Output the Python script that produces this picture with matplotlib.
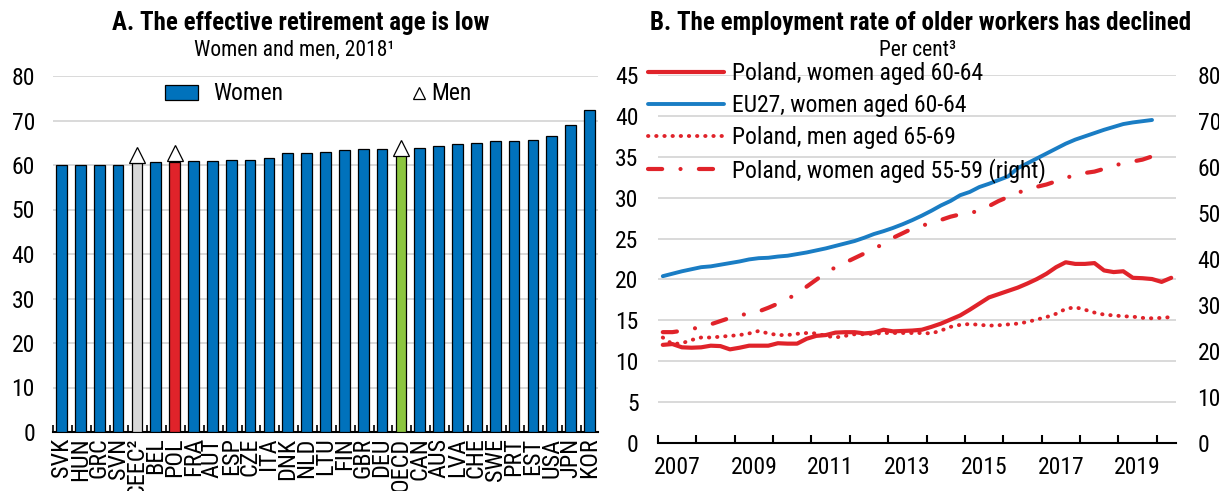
import matplotlib
matplotlib.use('Agg')
import matplotlib.pyplot as plt
import numpy as np
import pandas as pd
from matplotlib import font_manager
from matplotlib.patches import Patch
from matplotlib.lines import Line2D
from matplotlib.legend_handler import HandlerLine2D
from matplotlib.ticker import FixedLocator, NullFormatter


def pick_narrow():
    entries = font_manager.fontManager.ttflist
    prefs = ['Liberation Sans Narrow', 'Arial Narrow', 'Roboto Condensed', 'Open Sans Condensed',
             'Noto Sans Condensed', 'DejaVu Sans Condensed']
    for p in prefs:
        for e in entries:
            if e.name == p:
                return e.name, e.stretch
    for e in entries:
        st = str(e.stretch)
        if 'condensed' in st or 'Narrow' in e.name or 'Condensed' in e.name:
            return e.name, e.stretch
    return None, None


NARROW, STRETCH = pick_narrow()
if NARROW is not None:
    plt.rcParams['font.family'] = [NARROW, 'DejaVu Sans']
    if STRETCH is not None:
        plt.rcParams['font.stretch'] = STRETCH
    SCALE = 1.0
else:
    plt.rcParams['font.family'] = ['Liberation Sans', 'DejaVu Sans']
    SCALE = 0.83

# ---------------- Data: Panel A ----------------
countries = ['SVK', 'HUN', 'GRC', 'SVN', 'CEEC²', 'BEL', 'POL', 'FRA', 'AUT', 'ESP',
             'CZE', 'ITA', 'DNK', 'NLD', 'LTU', 'FIN', 'GBR', 'DEU', 'OECD', 'CAN',
             'AUS', 'LVA', 'CHE', 'SWE', 'PRT', 'EST', 'USA', 'JPN', 'KOR']
women_age = [59.9, 59.9, 59.9, 60.1, 60.4, 60.6, 60.7, 60.8, 60.8, 61.2,
             61.2, 61.5, 62.6, 62.6, 62.9, 63.4, 63.5, 63.5, 62.2, 63.9,
             64.2, 64.7, 65.0, 65.4, 65.4, 65.6, 66.5, 69.1, 72.3]
men_countries = ['CEEC²', 'POL', 'OECD']
men_age = [62.2, 62.8, 63.9]

# ---------------- Data: Panel B (quarterly) ----------------
quarters = pd.period_range('2007Q1', '2020Q2', freq='Q')
pol_women_60_64 = [12.0, 12.1, 11.7, 11.65, 11.7, 11.9, 11.85, 11.45, 11.65, 11.9,
                   11.9, 11.9, 12.2, 12.15, 12.15, 12.75, 13.1, 13.2, 13.5, 13.55,
                   13.55, 13.4, 13.5, 13.85, 13.65, 13.7, 13.75, 13.85, 14.2, 14.6,
                   15.1, 15.6, 16.3, 17.05, 17.8, 18.2, 18.6, 19.0, 19.5, 20.05,
                   20.7, 21.5, 22.1, 21.9, 21.9, 22.0, 21.1, 20.9, 21.0, 20.2,
                   20.15, 20.05, 19.7, 20.2]
eu27_women_60_64 = [20.4, 20.7, 21.0, 21.25, 21.5, 21.6, 21.8, 22.0, 22.2, 22.45,
                    22.6, 22.65, 22.8, 22.9, 23.1, 23.3, 23.55, 23.8, 24.1, 24.4,
                    24.7, 25.1, 25.55, 25.9, 26.3, 26.75, 27.25, 27.8, 28.4, 29.05,
                    29.6, 30.3, 30.7, 31.3, 31.7, 32.15, 32.6, 33.6, 34.2, 34.8,
                    35.4, 36.0, 36.6, 37.1, 37.5, 37.9, 38.3, 38.65, 39.0, 39.2,
                    39.35, 39.5]
pol_men_65_69 = [12.9, 12.1, 12.2, 12.6, 12.9, 12.9, 13.0, 13.1, 13.2, 13.4,
                 13.7, 13.4, 13.2, 13.2, 13.35, 13.45, 13.4, 13.1, 12.9, 13.1,
                 13.3, 13.3, 13.35, 13.45, 13.45, 13.45, 13.45, 13.45, 13.4, 13.75,
                 14.2, 14.45, 14.55, 14.45, 14.35, 14.4, 14.5, 14.6, 14.8, 15.1,
                 15.4, 15.8, 16.4, 16.6, 16.3, 15.95, 15.7, 15.6, 15.5, 15.45,
                 15.3, 15.25, 15.3, 15.4]
pol_women_55_59 = [24.1, 24.1, 24.4, 24.8, 25.2, 25.8, 26.5, 27.2, 27.8, 28.1,
                   28.6, 29.4, 30.3, 31.3, 32.5, 34.0, 35.5, 37.0, 38.2, 39.2,
                   40.2, 41.2, 42.2, 43.3, 44.6, 45.6, 46.6, 47.2, 47.9, 48.5,
                   49.2, 49.7, 50.0, 50.5, 51.5, 52.6, 53.5, 54.4, 55.1, 55.7,
                   56.2, 56.9, 57.6, 58.3, 58.7, 59.0, 59.6, 60.3, 60.8, 61.2,
                   61.6, 62.3]
year_labels = ['2007', '2009', '2011', '2013', '2015', '2017', '2019']

# ---------------- Styling ----------------
BLUE = '#0072bc'
RED = '#e0232a'
GREY = '#d9d9d9'
GREEN = '#8cc63f'
LINE_BLUE = '#1a7dc4'
GRID = '#d9d9d9'
W, H = 1219, 491
FS_TICK = 17 * SCALE
FS_XLAB = 17.5 * SCALE
FS_TITLE = 18 * SCALE
FS_SUB = 15.5 * SCALE

fig = plt.figure(figsize=(W / 100, H / 100), dpi=100)


def fx(px):
    return px / W


def fy(py):
    return 1 - py / H


# ---------------- Panel A ----------------
axA = fig.add_axes([fx(53), fy(432), fx(598) - fx(53), fy(76) - fy(432)])
xpos = np.arange(len(countries))
colors = []
for c in countries:
    if c == 'POL':
        colors.append(RED)
    elif c == 'OECD':
        colors.append(GREEN)
    elif c.startswith('CEEC'):
        colors.append(GREY)
    else:
        colors.append(BLUE)
axA.bar(xpos, women_age, width=0.57, color=colors, edgecolor='black', linewidth=0.9, zorder=3)
mx = [countries.index(c) for c in men_countries]
axA.plot(mx, men_age, linestyle='None', marker='^', markersize=11, markerfacecolor='white',
         markeredgecolor='black', markeredgewidth=0.9, zorder=4)
axA.set_ylim(0, 80)
axA.set_xlim(-0.45, len(countries) - 0.55)
axA.set_yticks(np.arange(0, 81, 10))
axA.yaxis.grid(True, color=GRID, linewidth=1.4, zorder=0)
axA.set_axisbelow(True)
for s in ['top', 'right', 'left']:
    axA.spines[s].set_visible(False)
axA.spines['bottom'].set_linewidth(1.5)
axA.tick_params(axis='y', length=0, labelsize=FS_TICK, pad=13)
axA.set_xticks(xpos)
axA.set_xticklabels(countries, rotation=90, fontsize=FS_XLAB)
axA.tick_params(axis='x', which='major', length=0, pad=4)
axA.xaxis.set_minor_locator(FixedLocator(np.arange(-0.45, len(countries), 1.0)))
axA.tick_params(axis='x', which='minor', direction='in', length=5, width=1.2)


class RightMarkerHandler(HandlerLine2D):
    """Draw the single legend marker at the right end of the handle box."""
    def get_xdata(self, legend, xdescent, ydescent, width, height, fontsize):
        c = -xdescent + width + 2
        xdata = np.array([c - 1, c + 1])
        return xdata, np.array([c])


women_h = Patch(facecolor=BLUE, edgecolor='black', linewidth=0.9, label='Women')
men_h = Line2D([], [], linestyle='None', marker='^', markersize=8, markerfacecolor='white',
               markeredgecolor='black', markeredgewidth=0.9, label='Men')
legA = axA.legend(handles=[women_h, men_h], loc='center left',
                  bbox_to_anchor=(fx(165), fy(94)), bbox_transform=fig.transFigure,
                  ncol=2, frameon=False, fontsize=FS_TICK, handlelength=1.4,
                  handleheight=0.62, handletextpad=0.63, columnspacing=4.26,
                  borderpad=0, borderaxespad=0,
                  handler_map={men_h: RightMarkerHandler(numpoints=1)})

fig.text(fx(301), fy(23), 'A. The effective retirement age is low', ha='center', va='center',
         fontsize=FS_TITLE, fontweight='bold')
fig.text(fx(294), fy(50), 'Women and men, 2018¹', ha='center', va='center', fontsize=FS_SUB)

# ---------------- Panel B ----------------
axB = fig.add_axes([fx(658), fy(443), fx(1176) - fx(658), fy(75) - fy(443)])
qx = np.array([p.year + (p.quarter - 1) / 4 + 0.125 for p in quarters])
n_eu = len(eu27_women_60_64)
n_55 = len(pol_women_55_59)

axB.plot(qx, pol_women_60_64, color=RED, linewidth=3.0, solid_capstyle='round',
         label='Poland, women aged 60-64', zorder=4)
axB.plot(qx[:n_eu], eu27_women_60_64, color=LINE_BLUE, linewidth=2.8, solid_capstyle='round',
         label='EU27, women aged 60-64', zorder=4)
axB.plot(qx, pol_men_65_69, color=RED, linewidth=2.8, linestyle=(0, (0.1, 2.0)),
         dash_capstyle='round', label='Poland, men aged 65-69', zorder=4)
axB2 = axB.twinx()
l4, = axB2.plot(qx[:n_55], pol_women_55_59, color=RED, linewidth=3.0,
                linestyle=(0, (3.4, 4.4, 0.01, 4.4)), dash_capstyle='round',
                label='Poland, women aged 55-59 (right)', zorder=4)

axB.set_xlim(2007, 2020.5)
axB.set_ylim(0, 45)
axB.set_yticks(np.arange(0, 46, 5))
axB2.set_ylim(0, 80)
axB2.set_yticks(np.arange(0, 81, 10))
axB.yaxis.grid(True, color=GRID, linewidth=1.4, zorder=0)
axB.set_axisbelow(True)
for ax in (axB, axB2):
    for s in ['top', 'right', 'left']:
        ax.spines[s].set_visible(False)
axB2.spines['bottom'].set_visible(False)
axB.spines['bottom'].set_linewidth(1.5)
axB.tick_params(axis='y', length=0, labelsize=FS_TICK, pad=14)
axB2.tick_params(axis='y', length=0, labelsize=FS_TICK, pad=15.5)
axB.set_xticks(np.arange(2007, 2021, 1))
axB.xaxis.set_major_formatter(NullFormatter())
axB.tick_params(axis='x', which='major', direction='in', length=6, width=1.5)
axB.set_xticks([int(y) + 0.5 for y in year_labels], minor=True)
axB.set_xticklabels(year_labels, minor=True, fontsize=FS_TICK)
axB.tick_params(axis='x', which='minor', length=0, pad=9)

handles = axB.get_lines()[:3] + [l4]
axB2.legend(handles=handles, labels=[h.get_label() for h in handles], loc='upper left',
            bbox_to_anchor=(fx(648), fy(62)), bbox_transform=fig.transFigure,
            frameon=False, fontsize=FS_TICK, handlelength=3.2, handletextpad=0.35,
            labelspacing=0.38, borderpad=0, borderaxespad=0)

fig.text(fx(921), fy(23), 'B. The employment rate of older workers has declined', ha='center',
         va='center', fontsize=FS_TITLE, fontweight='bold')
fig.text(fx(918), fy(50), 'Per cent³', ha='center', va='center', fontsize=FS_SUB)

fig.savefig('out.png', dpi=100)
